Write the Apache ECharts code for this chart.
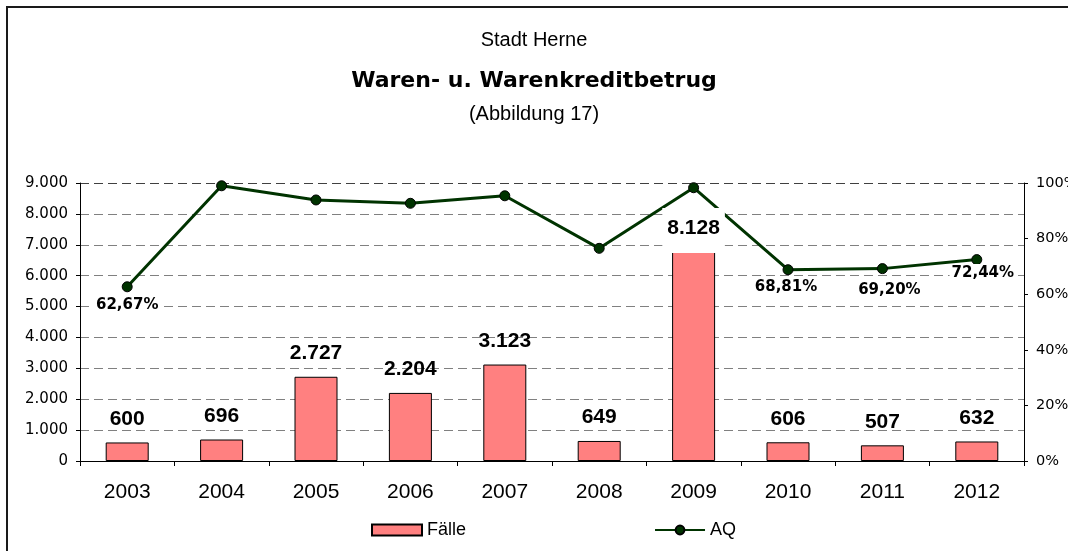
<!DOCTYPE html>
<html><head><meta charset="utf-8">
<script src="https://cdn.jsdelivr.net/npm/echarts@6/dist/echarts.min.js"></script>
<style>html,body{margin:0;padding:0;background:#fff}#c{width:1068px;height:551px}</style>
</head><body><div id="c"></div>
<script>
// ---- data ----
const years = ['2003','2004','2005','2006','2007','2008','2009','2010','2011','2012'];
const faelle = [600, 696, 2727, 2204, 3123, 649, 8128, 606, 507, 632];
const aq = [62.67, 99.0, 93.9, 92.7, 95.4, 76.5, 98.3, 68.81, 69.20, 72.44];
const aqLabelledYears = ['2003','2010','2011','2012'];
const leftTicks = [0,1000,2000,3000,4000,5000,6000,7000,8000,9000];
const rightTicks = [0,20,40,60,80,100];
const boxedBarYear = '2009';

// ---- helpers ----
function de(n){ return String(n).replace(/\B(?=(\d{3})+(?!\d))/g,'.'); }
function pct(v){ return v.toFixed(2).replace('.',',') + '%'; }

const lineLabelOffsets = { '2003':[0,4], '2010':[-2,3], '2011':[7,7], '2012':[6,-1] };

const barData = faelle.map((v,i)=> years[i]===boxedBarYear ? {
  value:v,
  label:{position:'insideTop', distance:0, offset:[0,-2], backgroundColor:'#fff', padding:[10,5,14,5]}
} : v);

const lineData = aq.map((v,i)=> aqLabelledYears.includes(years[i]) ? {
  value:v,
  label:{show:true, position:'bottom', distance:0, offset:lineLabelOffsets[years[i]]}
} : v);

const gridColors = leftTicks.map((t,i)=> i===leftTicks.length-1 ? '#404040' : '#808080');

const chart = echarts.init(document.getElementById('c'), null, {renderer:'canvas'});
chart.setOption({
  animation:false,
  backgroundColor:'#fff',
  title:[
    {text:'Stadt Herne', left:'center', top:25, textStyle:{fontFamily:'Liberation Sans', fontSize:20, fontWeight:'normal', color:'#000'}},
    {text:'Waren- u. Warenkreditbetrug', left:'center', top:65, textStyle:{fontFamily:'DejaVu Sans', fontSize:22, fontWeight:'bold', color:'#000'}},
    {text:'(Abbildung 17)', left:'center', top:99, textStyle:{fontFamily:'Liberation Sans', fontSize:20, fontWeight:'normal', color:'#000'}}
  ],
  graphic:[{type:'rect', silent:true, z:-1, shape:{x:7,y:7,width:1100,height:600}, style:{fill:null, stroke:'#1a1a1a', lineWidth:2}}],
  legend:{
    left:366, top:516, itemWidth:50, itemHeight:11, itemGap:188,
    textStyle:{fontFamily:'Liberation Sans', fontSize:18, color:'#000'},
    data:[{name:'Fälle', icon:'rect'}, {name:'AQ'}]
  },
  grid:{left:80, right:44, top:183, bottom:90, containLabel:false, outerBoundsMode:'none'},
  xAxis:{
    type:'category', data:years, boundaryGap:true,
    axisLine:{show:true, lineStyle:{color:'#000', width:1}},
    axisTick:{show:true, length:5, lineStyle:{color:'#000'}},
    axisLabel:{fontFamily:'Liberation Sans', fontSize:21, color:'#000', margin:21}
  },
  yAxis:[{
    type:'value', min:leftTicks[0], max:leftTicks[leftTicks.length-1], interval:leftTicks[1]-leftTicks[0],
    axisLine:{show:true, lineStyle:{color:'#000'}},
    axisTick:{show:true, length:4, lineStyle:{color:'#000'}},
    axisLabel:{fontFamily:'DejaVu Sans', fontSize:15, color:'#000', margin:12, formatter:v=>de(v)},
    splitLine:{show:true, lineStyle:{color:gridColors, type:[9,5], width:1}}
  },{
    type:'value', min:rightTicks[0], max:rightTicks[rightTicks.length-1], interval:rightTicks[1]-rightTicks[0],
    position:'right',
    axisLine:{show:true, lineStyle:{color:'#000'}},
    axisTick:{show:true, length:4, lineStyle:{color:'#000'}},
    axisLabel:{fontFamily:'DejaVu Sans', fontSize:14.5, color:'#000', margin:12, formatter:'{value}%'},
    splitLine:{show:false}
  }],
  series:[{
    name:'Fälle', type:'bar', data:barData, barWidth:43, z:3,
    itemStyle:{color:'#FF8080', borderColor:'#000', borderWidth:1},
    label:{show:true, position:'top', distance:13, color:'#000', fontFamily:'Liberation Sans', fontWeight:'bold', fontSize:21, formatter:p=>de(p.value)},
    emphasis:{disabled:true}
  },{
    name:'AQ', type:'line', yAxisIndex:1, data:lineData, z:2,
    symbol:'circle', symbolSize:10,
    lineStyle:{color:'#003300', width:3},
    itemStyle:{color:'#003300', borderColor:'#000', borderWidth:1},
    label:{show:false, color:'#000', fontFamily:'DejaVu Sans', fontWeight:'bold', fontSize:15, backgroundColor:'#fff', padding:[1,2], formatter:p=>pct(p.value)},
    emphasis:{disabled:true}
  }]
});
</script></body></html>
